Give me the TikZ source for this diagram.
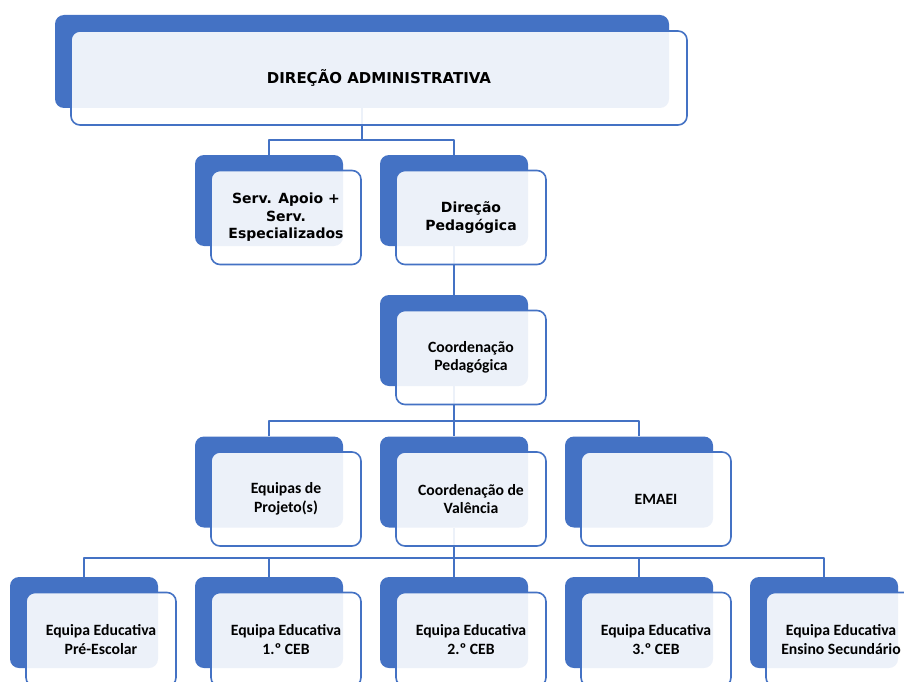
\documentclass[tikz,border=0pt]{standalone}
\usepackage{fontspec}
\newfontfamily\verdfont{DejaVu Sans}
\newfontfamily\califont{Carlito}
\definecolor{orgblue}{HTML}{4472C4}
\tikzset{
  backbox/.style={fill=orgblue, rounded corners=9pt, inner sep=0pt,
    minimum width=148pt, minimum height=91pt},
  frontbox/.style={draw=orgblue, line width=1.6pt, fill=white, fill opacity=0.9,
    text opacity=1, rounded corners=9pt, inner sep=0pt, align=center,
    minimum width=150pt, minimum height=94pt},
  upper/.style={font=\verdfont\bfseries\fontsize{14}{17.5}\selectfont},
  lower/.style={font=\califont\bfseries\fontsize{15.7}{18.5}\selectfont},
  conn/.style={draw=orgblue, line width=1.6pt}
}
\begin{document}
\begin{tikzpicture}[x=1pt, y=-1pt, line join=round]
\useasboundingbox (0,0) rectangle (904,682);
% back boxes
\node[backbox, minimum width=614pt, minimum height=93pt] (dirb) at (362,61.5) {};
\node[backbox] (servb) at (269,200.5) {};
\node[backbox] (dirpb) at (454,200.5) {};
\node[backbox] (coordb) at (454,340.5) {};
\foreach \n/\x in {equipb/269,valb/454,emaeib/639}
  \node[backbox] (\n) at (\x,482) {};
\foreach \n/\x in {1/84,2/269,3/454,4/639,5/824}
  \node[backbox] (eqb\n) at (\x,622.5) {};
% connectors
\draw[conn] (dirb.south) -- ++(0,32) coordinate (j1);
\draw[conn] (servb.north) |- (j1) -| (dirpb.north);
\draw[conn] (dirpb.south) -- (coordb.north);
\draw[conn] (coordb.south) -- ++(0,34.5) coordinate (j2);
\draw[conn] (equipb.north) |- (j2) -| (emaeib.north);
\draw[conn] (j2) -- (valb.north);
\draw[conn] (valb.south) -- ++(0,30.5) coordinate (j3);
\draw[conn] (eqb1.north) |- (j3) -| (eqb5.north);
\foreach \i in {2,3,4}
  \draw[conn] (eqb\i.north) -- (eqb\i.north |- j3);
% front boxes
\node[frontbox, upper, font=\verdfont\bfseries\fontsize{15}{18}\selectfont,
  minimum width=616pt] (dir) at ([shift={(17,16.5)}]dirb.center) {DIREÇÃO ADMINISTRATIVA};
\node[frontbox, upper] (serv) at ([shift={(17,17)}]servb.center) {Serv. Apoio +\\Serv.\\Especializados};
\node[frontbox, upper] (dirp) at ([shift={(17,17)}]dirpb.center) {Direção\\Pedagógica};
\node[frontbox, lower] (coord) at ([shift={(17,17)}]coordb.center) {Coordenação\\Pedagógica};
\node[frontbox, lower] (equip) at ([shift={(17,17)}]equipb.center) {Equipas de\\Projeto(s)};
\node[frontbox, lower] (val) at ([shift={(17,17)}]valb.center) {Coordenação de\\Valência};
\node[frontbox, lower] (emaei) at ([shift={(17,17)}]emaeib.center) {EMAEI};
\foreach \i/\txt in {1/Pré-Escolar,2/1.º CEB,3/2.º CEB,4/3.º CEB,5/Ensino Secundário}
  \node[frontbox, lower] (eq\i) at ([shift={(17,17)}]eqb\i.center) {Equipa Educativa\\\txt};
\end{tikzpicture}
\end{document}
